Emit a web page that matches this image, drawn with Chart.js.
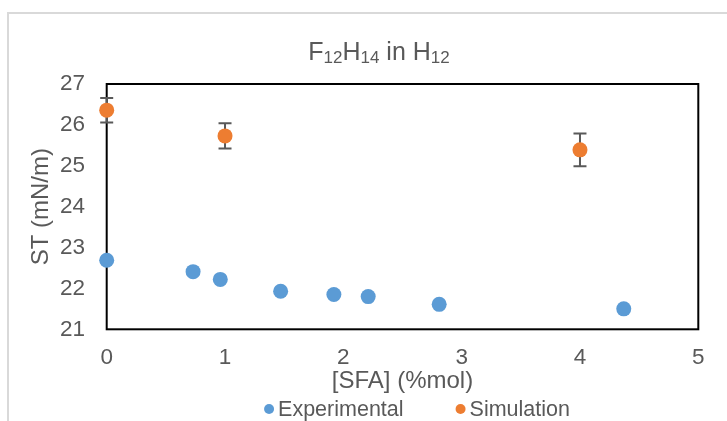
<!DOCTYPE html>
<html>
<head>
<meta charset="utf-8">
<script src="https://cdn.jsdelivr.net/npm/chart.js@4.4.1/dist/chart.umd.min.js"></script>
<style>
  html, body { margin: 0; padding: 0; background: #fff; overflow: hidden; }
  #wrap { width: 727px; height: 421px; position: relative; }
</style>
</head>
<body>
<div id="wrap"><canvas id="stChart" width="727" height="421"></canvas></div>
<script>
// surface tension of F12H14 mixtures in H12
const expX = [0, 0.73, 0.96, 1.47, 1.92, 2.21, 2.81, 4.37];
const expY = [22.69, 22.41, 22.22, 21.93, 21.85, 21.80, 21.61, 21.50];

const simX = [0, 1, 4];
const simY = [26.36, 25.73, 25.39];
const simErr = [0.30, 0.31, 0.40];

const xTicks = [0, 1, 2, 3, 4, 5];
const yTicks = [21, 22, 23, 24, 25, 26, 27];

const textColor = "#595959";
const fontFamily = "'Liberation Sans', Arial, sans-serif";

// light grey frame around the chart object
const framePlugin = {
    id: "frame",
    beforeDraw(chart) {
        const ctx = chart.ctx;
        ctx.save();
        ctx.fillStyle = "#d9d9d9";
        ctx.fillRect(7, 12, 2, 409);
        ctx.fillRect(7, 12, 720, 2);
        ctx.restore();
    }
};

// black box around the plot area, then the error bars under the markers
const boxAndErrors = {
    id: "boxAndErrors",
    beforeDatasetsDraw(chart) {
        const { ctx, chartArea: a, scales } = chart;
        ctx.save();
        ctx.strokeStyle = "#000";
        ctx.lineWidth = 2;
        ctx.strokeRect(a.left, a.top, a.right - a.left, a.bottom - a.top);

        ctx.strokeStyle = "#595959";
        ctx.lineWidth = 2;
        simX.forEach((x, i) => {
            const px = scales.x.getPixelForValue(x);
            const top = scales.y.getPixelForValue(simY[i] + simErr[i]);
            const bot = scales.y.getPixelForValue(simY[i] - simErr[i]);
            ctx.beginPath();
            ctx.moveTo(px, top);
            ctx.lineTo(px, bot);
            ctx.moveTo(px - 6.5, top);
            ctx.lineTo(px + 6.5, top);
            ctx.moveTo(px - 6.5, bot);
            ctx.lineTo(px + 6.5, bot);
            ctx.stroke();
        });
        ctx.restore();
    }
};

// title with subscripts
const subTitle = {
    id: "subTitle",
    afterDraw(chart) {
        const ctx = chart.ctx;
        const parts = [
            ["F", false], ["12", true], ["H", false], ["14", true], [" in H", false], ["12", true]
        ];
        const mainFont = "25px " + fontFamily;
        const subFont = "17px " + fontFamily;
        ctx.save();
        ctx.fillStyle = textColor;
        ctx.textBaseline = "alphabetic";
        let total = 0;
        parts.forEach(p => {
            ctx.font = p[1] ? subFont : mainFont;
            total += ctx.measureText(p[0]).width;
        });
        let x = 379 - total / 2;
        const base = 60;
        parts.forEach(p => {
            ctx.font = p[1] ? subFont : mainFont;
            ctx.fillText(p[0], x, p[1] ? base + 3 : base);
            x += ctx.measureText(p[0]).width;
        });
        ctx.restore();
    }
};

// legend row under the axis title
const bottomLegend = {
    id: "bottomLegend",
    afterDraw(chart) {
        const ctx = chart.ctx;
        const sets = chart.data.datasets;
        ctx.save();
        ctx.font = "21.5px " + fontFamily;
        ctx.textBaseline = "middle";
        const gap = 51;
        const widths = sets.map(d => ctx.measureText(d.label).width);
        const total = sets.reduce((s, d, i) => s + 15 + widths[i], 0) + gap * (sets.length - 1);
        const a = chart.chartArea;
        let x = (a.left + a.right) / 2 + 15 - total / 2;
        const y = 409;
        sets.forEach((d, i) => {
            ctx.fillStyle = d.backgroundColor;
            ctx.beginPath();
            ctx.arc(x + 5, y, 5, 0, Math.PI * 2);
            ctx.fill();
            ctx.fillStyle = textColor;
            ctx.fillText(d.label, x + 14, y + 1);
            x += 15 + widths[i] + gap;
        });
        ctx.restore();
    }
};

const ctx = document.getElementById("stChart").getContext("2d");

new Chart(ctx, {
    type: "scatter",
    data: {
        datasets: [
            {
                label: "Experimental",
                data: expX.map((x, i) => ({ x: x, y: expY[i] })),
                backgroundColor: "#5B9BD5",
                borderColor: "#5B9BD5",
                pointRadius: 7.5,
                pointBorderWidth: 0,
                clip: false
            },
            {
                label: "Simulation",
                data: simX.map((x, i) => ({ x: x, y: simY[i] })),
                backgroundColor: "#ED7D31",
                borderColor: "#ED7D31",
                pointRadius: 7.5,
                pointBorderWidth: 0,
                clip: false
            }
        ]
    },
    options: {
        responsive: false,
        animation: false,
        devicePixelRatio: 1,
        layout: { padding: { top: 84, right: 28.7, bottom: 0, left: 8 } },
        plugins: {
            legend: { display: false },
            title: { display: false },
            tooltip: { enabled: false }
        },
        scales: {
            x: {
                type: "linear",
                min: xTicks[0],
                max: xTicks[xTicks.length - 1],
                afterBuildTicks: s => { s.ticks = xTicks.map(v => ({ value: v })); },
                grid: { display: false, drawTicks: false },
                border: { display: false },
                ticks: { color: textColor, font: { family: fontFamily, size: 22.5 }, padding: 15 },
                title: {
                    display: true,
                    text: "[SFA] (%mol)",
                    color: textColor,
                    font: { family: fontFamily, size: 24 },
                    padding: { top: 0, bottom: 25 }
                },
                afterFit: s => { s.height = 91.7; }
            },
            y: {
                type: "linear",
                min: yTicks[0],
                max: yTicks[yTicks.length - 1],
                afterBuildTicks: s => { s.ticks = yTicks.map(v => ({ value: v })); },
                grid: { display: false, drawTicks: false },
                border: { display: false },
                ticks: { color: textColor, font: { family: fontFamily, size: 22.5 }, padding: 21.7 },
                title: {
                    display: true,
                    text: "ST (mN/m)",
                    color: textColor,
                    font: { family: fontFamily, size: 24 },
                    padding: { top: 19, bottom: 0 }
                },
                afterFit: s => { s.width = 98.7; }
            }
        }
    },
    plugins: [framePlugin, boxAndErrors, subTitle, bottomLegend]
});
</script>
</body>
</html>
